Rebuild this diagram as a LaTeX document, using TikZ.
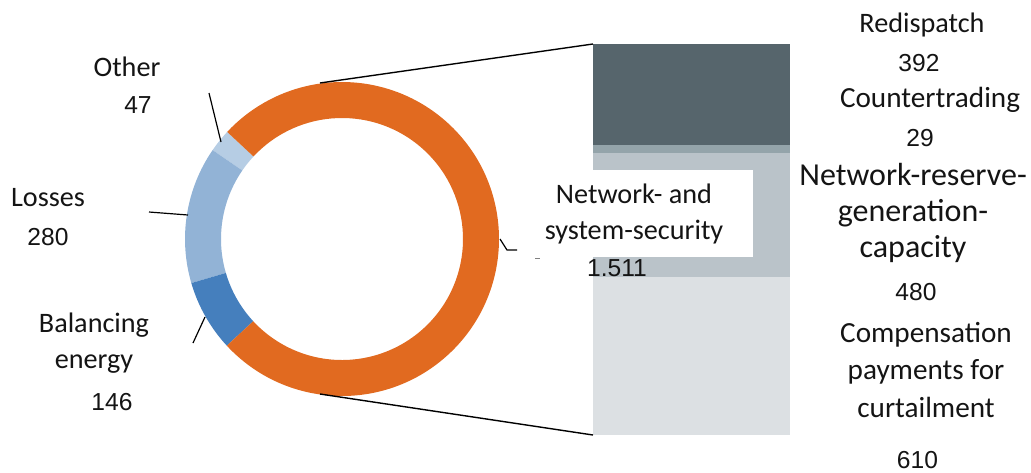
\documentclass[tikz,border=0pt]{standalone}
\usepackage{fontspec}
\setmainfont{Carlito}
\newfontfamily\numfont{Liberation Sans}
\definecolor{orangeC}{RGB}{225,106,32}
\definecolor{otherC}{RGB}{182,205,228}
\definecolor{lossC}{RGB}{146,179,214}
\definecolor{balC}{RGB}{69,127,189}
\definecolor{redisC}{RGB}{86,101,108}
\definecolor{counterC}{RGB}{148,164,170}
\definecolor{reserveC}{RGB}{186,195,201}
\definecolor{compC}{RGB}{220,224,227}
\definecolor{txtC}{RGB}{20,20,20}
\tikzset{
  lbl/.style={inner sep=0pt, align=center, text=txtC, font=\fontsize{14.1}{18.2}\selectfont},
  lblbig/.style={lbl, font=\fontsize{16}{18}\selectfont},
  lblmid/.style={lbl, font=\fontsize{14.6}{18.6}\selectfont},
  num/.style={inner sep=0pt, text=txtC, font=\numfont\fontsize{12.3}{14}\selectfont},
  leader/.style={draw=black, line width=0.6pt},
  zoomline/.style={draw=black, line width=0.7pt},
}
\newcommand{\ringseg}[3]{% start, end (visual degrees ccw), colour
  \fill[#3] (-#1:157) arc[start angle=-#1, end angle=-#2, radius=157]
    -- (-#2:121) arc[start angle=-#2, end angle=-#1, radius=121] -- cycle;}
\begin{document}
\begin{tikzpicture}[x=0.5pt,y=-0.5pt]
\useasboundingbox (0,0) rectangle (1031,472);
% donut
\begin{scope}[shift={(342,239)}]
  \ringseg{137}{145.5}{otherC}
  \ringseg{145.5}{196.3}{lossC}
  \ringseg{196.3}{222.8}{balC}
  \ringseg{222.8}{497}{orangeC}
\end{scope}
% stacked bar
\fill[redisC] (593,44) rectangle (790,145.4);
\fill[counterC] (593,145.4) rectangle (790,152.9);
\fill[reserveC] (593,152.9) rectangle (790,277);
\fill[compC] (593,277) rectangle (790,435);
\coordinate (barTL) at (593,44);
\coordinate (barBL) at (593,435);
\coordinate (ringTop) at (320,83);
\coordinate (ringBot) at (320,394);
\draw[zoomline] (ringTop) -- (barTL);
\draw[zoomline] (ringBot) -- (barBL);
% white label box
\fill[white] (535,170) rectangle (753,257);
\node[lbl] (nss) at (634,214) {Network- and\\system-security};
\node[num] (nssv) at (617,268) {1.511};
% leader for network segment
\coordinate (nsA) at (500,239);
\coordinate (nsB) at (507,250);
\coordinate (nsC) at (517,250);
\draw[leader] (nsA) -- (nsB) -- (nsC);
\coordinate (dA) at (535,258);
\coordinate (dB) at (540,258);
\draw[draw=gray, line width=0.4pt] (dA) -- (dB);
% left labels
\node[lbl] (other) at (127,67) {Other};
\node[num] (otherv) at (138,105) {47};
\node[lbl] (loss) at (48,198) {Losses};
\node[num] (lossv) at (48,237) {280};
\node[lbl] (bal) at (94,343) {Balancing\\energy};
\node[num] (balv) at (112,402) {146};
% left leaders
\coordinate (oA) at (209,93);
\coordinate (oB) at (221,142);
\draw[leader] (oA) -- (oB);
\coordinate (lA) at (149,212);
\coordinate (lB) at (188,215);
\draw[leader] (lA) -- (lB);
\coordinate (bA) at (193,343);
\coordinate (bB) at (205,317);
\draw[leader] (bA) -- (bB);
% right labels
\node[lbl] (redis) at (922,25) {Redispatch};
\node[num] (redisv) at (919,63) {392};
\node[lblmid] (counter) at (930,100) {Countertrading};
\node[num] (counterv) at (920,138) {29};
\node[lblbig] (reserve) at (913,212.5) {Network-reserve-\\generation-\\capacity};
\node[num] (reservev) at (916,292) {480};
\node[lblmid] (comp) at (926,370) {Compensation\\payments for\\curtailment};
\node[num] (compv) at (917.5,460) {610};
\end{tikzpicture}
\end{document}
